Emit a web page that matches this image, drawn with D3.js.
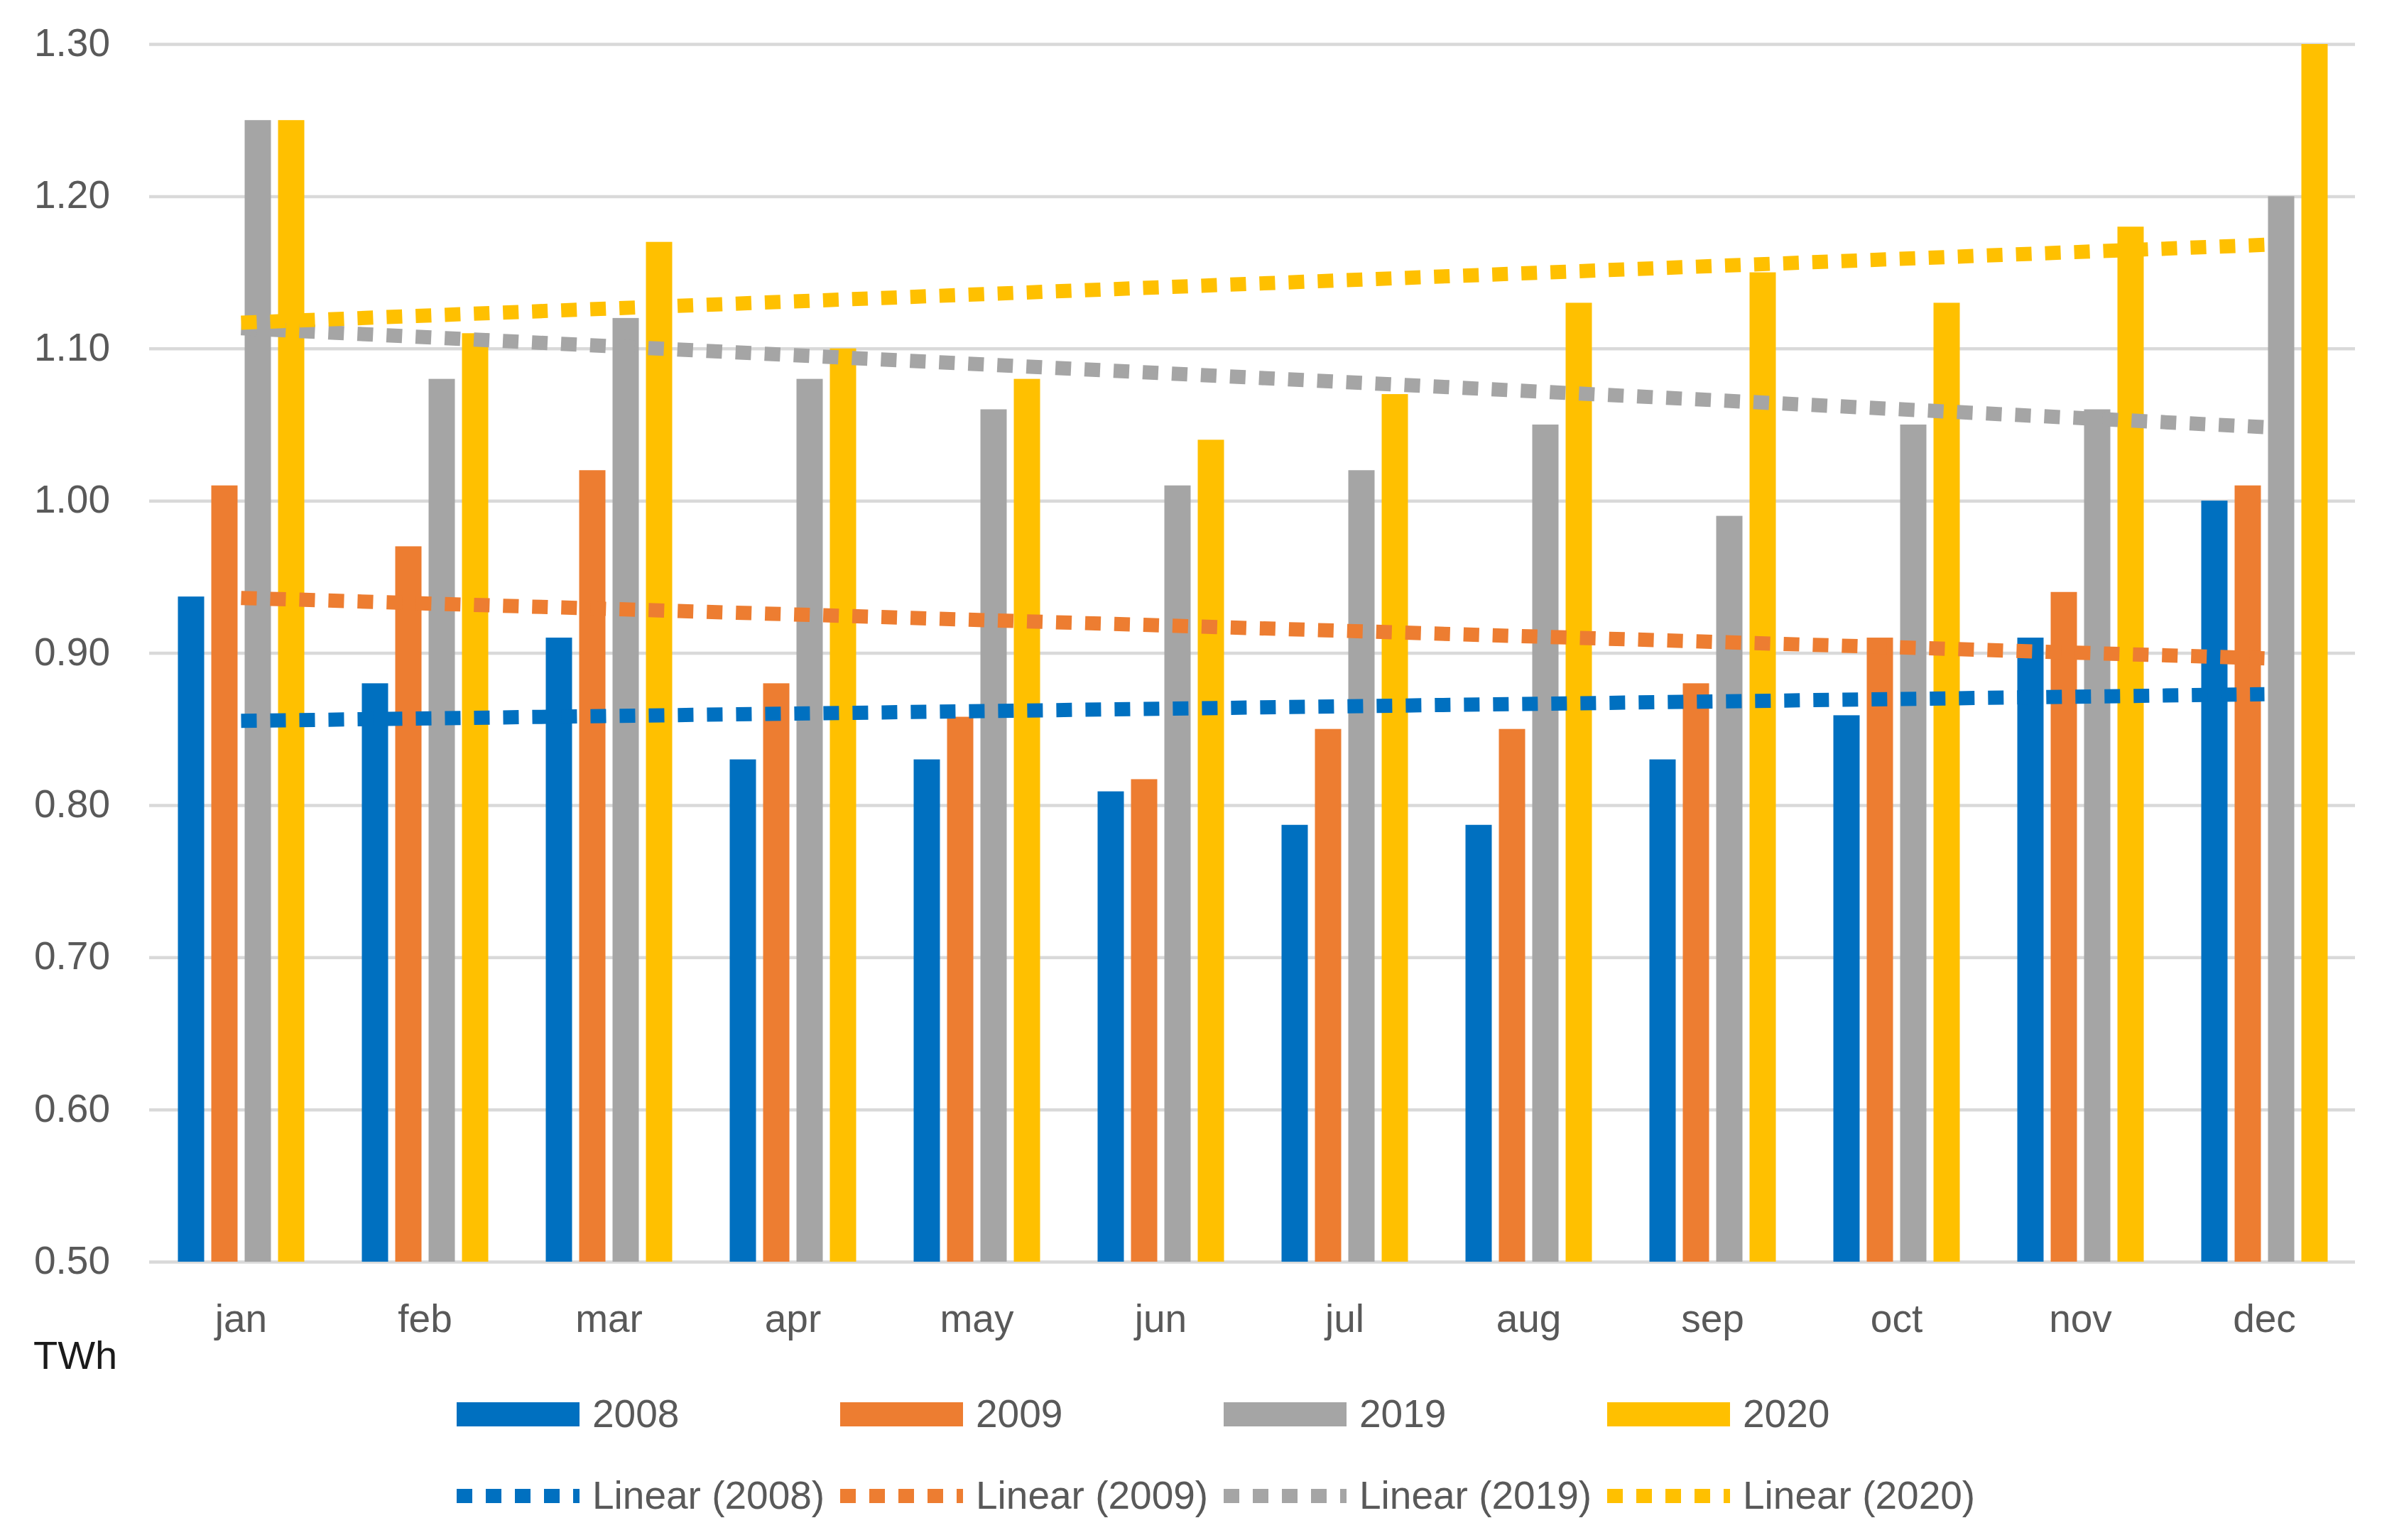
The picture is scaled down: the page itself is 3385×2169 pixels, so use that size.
<!DOCTYPE html>
<html>

<head>
  <meta charset="UTF-8">
  <script src="https://d3js.org/d3.v7.js"></script>
  <style>
    body { margin: 0; background: #fff; }
    text { font-family: "Liberation Sans", Arial, sans-serif; }
  </style>
</head>

<body>
  <div id="chart"></div>

  <script>
    // data

    const months = ['jan', 'feb', 'mar', 'apr', 'may', 'jun', 'jul', 'aug', 'sep', 'oct', 'nov', 'dec'];
    const years = ['2008', '2009', '2019', '2020'];

    const v2008 = [0.937, 0.88, 0.91, 0.83, 0.83, 0.809, 0.787, 0.787, 0.83, 0.859, 0.91, 1.00];
    const v2009 = [1.01, 0.97, 1.02, 0.88, 0.858, 0.817, 0.85, 0.85, 0.88, 0.91, 0.94, 1.01];
    const v2019 = [1.25, 1.08, 1.12, 1.08, 1.06, 1.01, 1.02, 1.05, 0.99, 1.05, 1.06, 1.20];
    const v2020 = [1.25, 1.11, 1.17, 1.10, 1.08, 1.04, 1.07, 1.13, 1.15, 1.13, 1.18, 1.30];

    const yTicks = [0.50, 0.60, 0.70, 0.80, 0.90, 1.00, 1.10, 1.20, 1.30];

    const colors = ['#0070C0', '#ED7D31', '#A5A5A5', '#FFC000'];

    const series = years.map((y, i) => ({ key: y, values: [v2008, v2009, v2019, v2020][i] }));

    // set up

    const W = 3385, H = 2169;
    const plot = { left: 210, right: 3318, top: 62, bottom: 1777 };

    const svg = d3.select('#chart')
      .append('svg')
        .attr('width', W)
        .attr('height', H);

    // scales

    const x = d3.scaleBand()
        .domain(months)
        .range([plot.left, plot.right])
        .padding(0);

    const xs = d3.scaleBand()
        .domain(years)
        .range([-89, 89])
        .paddingInner(0.213)
        .paddingOuter(0);

    const y = d3.scaleLinear()
        .domain([0.5, 1.3])
        .range([plot.bottom, plot.top]);

    const color = d3.scaleOrdinal()
        .domain(years)
        .range(colors);

    // grid + y axis

    svg.append('g')
        .attr('transform', `translate(${plot.left},0)`)
        .call(d3.axisLeft(y)
          .tickValues(yTicks)
          .tickFormat(d3.format('.2f'))
          .tickSize(-(plot.right - plot.left - 2))
          .tickPadding(55))
        .call(g => g.select('.domain').remove())
        .call(g => g.selectAll('line')
          .attr('stroke', '#d9d9d9')
          .attr('stroke-width', 4.5))
        .call(g => g.selectAll('text')
          .attr('fill', '#595959')
          .attr('font-size', 55)
          .attr('dy', '0.3em'));

    // x axis labels

    svg.append('g')
        .attr('transform', `translate(0,${plot.bottom})`)
        .call(d3.axisBottom(x).tickSize(0))
        .call(g => g.select('.domain').remove())
        .call(g => g.selectAll('text')
          .attr('fill', '#595959')
          .attr('font-size', 55)
          .attr('dy', null)
          .attr('y', 99));

    svg.append('text')
        .attr('x', 47)
        .attr('y', 1928)
        .attr('font-size', 56)
        .attr('fill', '#1a1a1a')
        .text('TWh');

    // bars

    const layers = svg.append('g')
      .selectAll('g')
      .data(series)
      .join('g')
        .attr('fill', d => color(d.key));

    layers.selectAll('rect')
      .data(d => d.values.map((v, i) => ({ key: d.key, month: months[i], v })))
      .join('rect')
        .attr('x', d => x(d.month) + x.bandwidth() / 2 + xs(d.key))
        .attr('width', xs.bandwidth())
        .attr('y', d => y(d.v))
        .attr('height', d => y(0.5) - y(d.v));

    // linear trendlines (least squares, as Excel does)

    function linearFit(values) {
      const n = values.length;
      const mx = d3.mean(values, (_, i) => i);
      const my = d3.mean(values);
      const sxy = d3.sum(values, (v, i) => (i - mx) * (v - my));
      const sxx = d3.sum(values, (_, i) => (i - mx) ** 2);
      const b = sxy / sxx;
      const a = my - b * mx;
      return [0, n - 1].map(i => ({ i, v: a + b * i }));
    }

    const cx = i => x(months[i]) + x.bandwidth() / 2;

    const line = d3.line()
        .x(d => cx(d.i))
        .y(d => y(d.v));

    const dash = '22,19';

    svg.append('g')
      .selectAll('path')
      .data(series)
      .join('path')
        .attr('d', d => line(linearFit(d.values)))
        .attr('fill', 'none')
        .attr('stroke', d => color(d.key))
        .attr('stroke-width', 20)
        .attr('stroke-dasharray', dash);

    // legend

    const legX = [643, 1183, 1723, 2263];

    const leg1 = svg.append('g')
      .selectAll('g')
      .data(series)
      .join('g')
        .attr('transform', (d, i) => `translate(${legX[i]},1992)`);

    leg1.append('rect')
        .attr('x', 0)
        .attr('y', -17)
        .attr('width', 173)
        .attr('height', 34)
        .attr('fill', d => color(d.key));

    leg1.append('text')
        .attr('x', 191)
        .attr('y', 18)
        .attr('font-size', 55)
        .attr('fill', '#595959')
        .text(d => d.key);

    const leg2 = svg.append('g')
      .selectAll('g')
      .data(series)
      .join('g')
        .attr('transform', (d, i) => `translate(${legX[i]},2107)`);

    leg2.append('line')
        .attr('x1', 0)
        .attr('x2', 173)
        .attr('stroke', d => color(d.key))
        .attr('stroke-width', 20)
        .attr('stroke-dasharray', dash);

    leg2.append('text')
        .attr('x', 191)
        .attr('y', 18)
        .attr('font-size', 55)
        .attr('fill', '#595959')
        .text(d => `Linear (${d.key})`);
  </script>
</body>

</html>
